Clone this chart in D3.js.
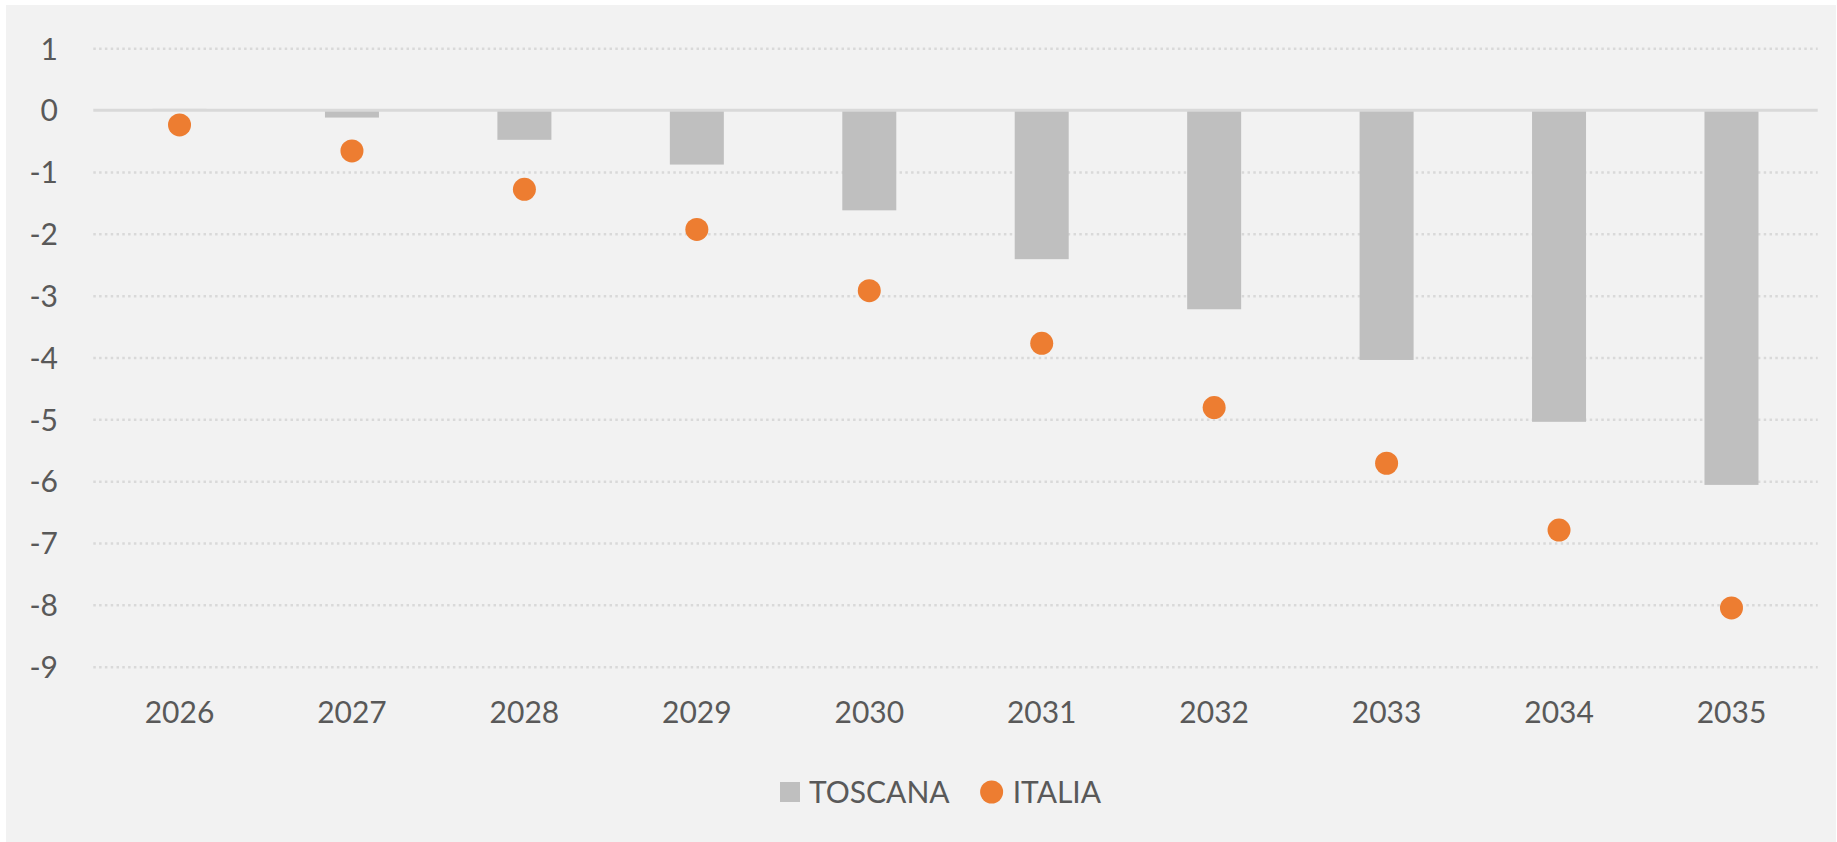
<!DOCTYPE html>
<html>
<head>
<meta charset="utf-8">
<script src="https://cdn.jsdelivr.net/npm/d3@7"></script>
<style>
  html, body { margin: 0; padding: 0; background: #ffffff; }
  svg { display: block; }
  text { font-family: Lato, "Open Sans", sans-serif; fill: #595959; }
</style>
</head>
<body>
<svg id="chart" width="1837" height="842"></svg>
<script>
const categories = ["2026","2027","2028","2029","2030","2031","2032","2033","2034","2035"];
const toscana = [0.02, -0.12, -0.48, -0.88, -1.62, -2.41, -3.22, -4.04, -5.04, -6.06];
const italia  = [-0.24, -0.66, -1.28, -1.93, -2.92, -3.77, -4.81, -5.71, -6.79, -8.05];
const yTicks = [1, 0, -1, -2, -3, -4, -5, -6, -7, -8, -9];
const seriesNames = ["TOSCANA", "ITALIA"];

const W = 1837, H = 842;
const FS = 30;
const svg = d3.select("#chart");

// background panel
svg.append("rect").attr("x", 6).attr("y", 5).attr("width", W - 7).attr("height", H - 5).attr("fill", "#f2f2f2");

const plot = { left: 93.3, right: 1817.7, top: 48.3, bottom: 666.7 };

const x = d3.scaleBand().domain(categories).range([plot.left, plot.right]).paddingInner(0).paddingOuter(0);
const y = d3.scaleLinear().domain([1, -9]).range([plot.top, plot.bottom]);

// gridlines
const gridAxis = d3.axisLeft(y).tickValues(yTicks.filter(v => v !== 0)).tickSize(-(plot.right - plot.left)).tickFormat("");
const g = svg.append("g").attr("transform", `translate(${plot.left},0)`).call(gridAxis);
g.select(".domain").remove();
g.selectAll(".tick line").attr("stroke", "#d9d9d9").attr("stroke-width", 2.5).attr("stroke-dasharray", "2.5,3.3");

// bars
const barW = 54;
svg.append("g").selectAll("rect").data(categories).join("rect")
  .attr("x", d => x(d) + x.bandwidth() / 2 - barW / 2)
  .attr("width", barW)
  .attr("y", (d, i) => Math.min(y(0), y(toscana[i])))
  .attr("height", (d, i) => Math.abs(y(toscana[i]) - y(0)))
  .attr("fill", "#bfbfbf");

// zero line
svg.append("line").attr("x1", plot.left).attr("x2", plot.right)
  .attr("y1", y(0)).attr("y2", y(0)).attr("stroke", "#d9d9d9").attr("stroke-width", 3);

// dots
svg.append("g").selectAll("circle").data(categories).join("circle")
  .attr("cx", d => x(d) + x.bandwidth() / 2)
  .attr("cy", (d, i) => y(italia[i]))
  .attr("r", 11.5)
  .attr("fill", "#ed7d31");

// y axis labels (hyphen-minus as in the reference)
const yAxis = d3.axisLeft(y).tickValues(yTicks).tickSize(0).tickPadding(0).tickFormat(d => String(d));
const ya = svg.append("g").attr("transform", `translate(58,0)`).call(yAxis);
ya.select(".domain").remove();
ya.selectAll("text").attr("font-size", FS).attr("fill", "#595959").attr("font-family", "Lato, 'Open Sans', sans-serif").attr("dy", "0.36em");

// x axis labels
const xAxis = d3.axisBottom(x).tickSize(0).tickPadding(0);
const xa = svg.append("g").attr("transform", `translate(0,712)`).call(xAxis);
xa.select(".domain").remove();
xa.selectAll("text").attr("font-size", FS).attr("fill", "#595959").attr("font-family", "Lato, 'Open Sans', sans-serif").attr("dy", "0.36em");

// legend
const lg = svg.append("g");
const ly = 792;
lg.append("rect").attr("x", 780).attr("y", ly - 10).attr("width", 20).attr("height", 20).attr("fill", "#bfbfbf");
const t1 = lg.append("text").attr("x", 809).attr("y", ly).attr("dy", "0.36em").attr("font-size", FS).text(seriesNames[0]);
const t1end = 809 + t1.node().getComputedTextLength();
const cx2 = t1end + 42;
lg.append("circle").attr("cx", cx2).attr("cy", ly).attr("r", 11.5).attr("fill", "#ed7d31");
lg.append("text").attr("x", cx2 + 21).attr("y", ly).attr("dy", "0.36em").attr("font-size", FS).text(seriesNames[1]);
</script>
</body>
</html>
